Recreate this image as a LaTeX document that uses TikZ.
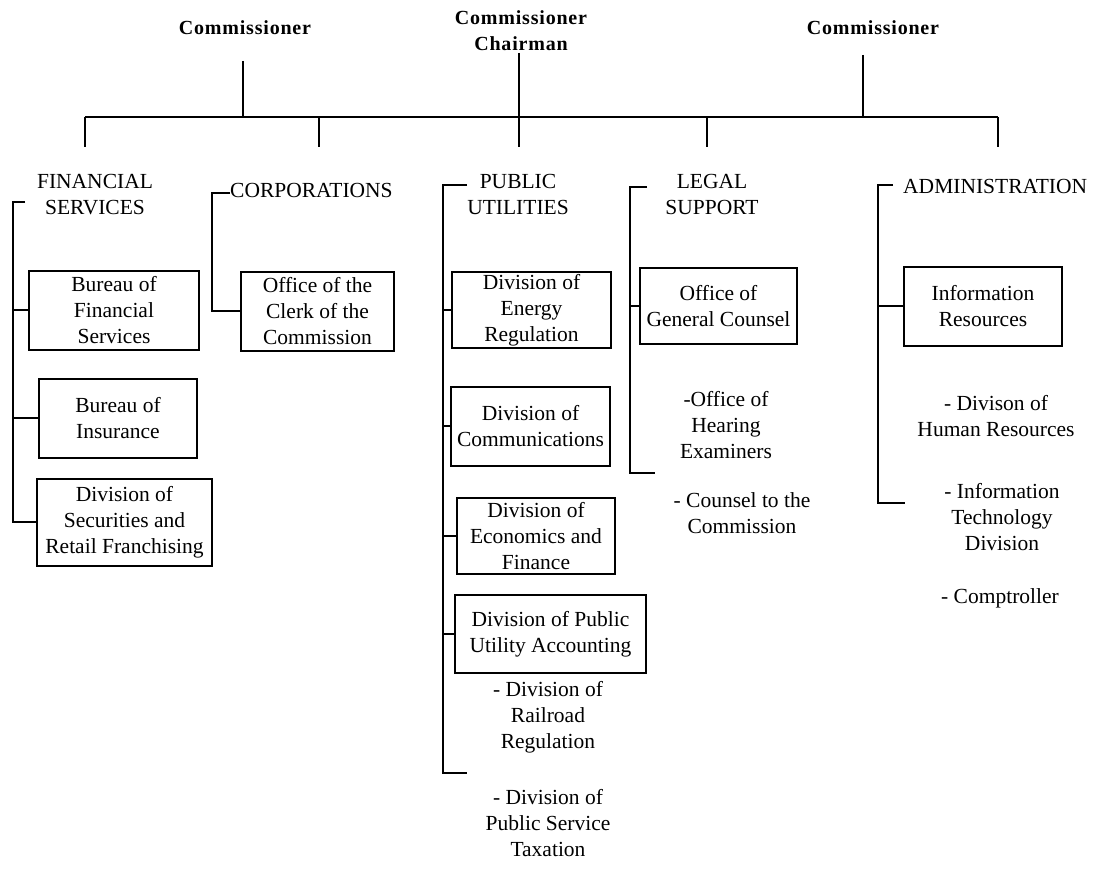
\documentclass[tikz,border=0pt]{standalone}
\usepackage{fontspec}
\setmainfont{Liberation Serif}
\begin{document}
\begin{tikzpicture}[x=1pt,y=-1pt,
  line/.style={line width=2pt},
  unit/.style={draw, line width=2pt, inner sep=0pt, align=center,
    font=\fontsize{21.5}{26}\selectfont},
  label/.style={inner sep=0pt, align=center, font=\fontsize{21.5}{26}\selectfont},
  head/.style={inner sep=0pt, align=center,
    font=\fontsize{20}{26}\selectfont\bfseries\addfontfeature{LetterSpace=4}}]
\useasboundingbox (0,0) rectangle (1097,875);

% ---- commissioners ----
\node[head] (c1) at (245,28) {Commissioner};
\node[head] (c2) at (521,31) {Commissioner\\Chairman};
\node[head] (c3) at (873,28) {Commissioner};

\coordinate (c1foot) at (243,61);
\coordinate (c2foot) at (519,53);
\coordinate (c3foot) at (863,55);
\coordinate (busL) at (85,117);
\coordinate (busR) at (998,117);

\draw[line] (busL) -- (busR);
\draw[line] (c1foot) -- (c1foot |- busL);
\draw[line] (c2foot) -- (c2foot |- busL);
\draw[line] (c3foot) -- (c3foot |- busL);

% drops to the departments
\coordinate (dFS) at (85,147);
\coordinate (dCO) at (319,147);
\coordinate (dPU) at (519,147);
\coordinate (dLS) at (707,147);
\coordinate (dAD) at (998,147);
\foreach \d in {dFS,dCO,dPU,dLS,dAD}
  \draw[line] (\d |- busL) -- (\d);

% ---- financial services ----
\node[label] (fs) at (95,195) {FINANCIAL\\SERVICES};
\node[unit, minimum width=170pt, minimum height=79pt] (bfs) at (114,310)
  {Bureau of\\Financial\\Services};
\node[unit, minimum width=158pt, minimum height=79pt] (boi) at (118,418)
  {Bureau of\\Insurance};
\node[unit, minimum width=175pt, minimum height=87pt] (dsrf) at (124.5,522)
  {Division of\\Securities and\\Retail Franchising};
\coordinate (fsTop) at (13,202);
\coordinate (fsStub) at (25,202);
\draw[line] (fsStub) -- (fsTop) -- (fsTop |- dsrf.west) -- (dsrf.west);
\draw[line] (fsTop |- bfs.west) -- (bfs.west);
\draw[line] (fsTop |- boi.west) -- (boi.west);

% ---- corporations ----
\node[label, anchor=west] (co) at (230,190) {CORPORATIONS};
\node[unit, minimum width=153pt, minimum height=79pt] (clerk) at (317.5,311)
  {Office of the\\Clerk of the\\Commission};
\coordinate (coTop) at (212,193);
\draw[line] (coTop -| co.west) -- (coTop) -- (coTop |- clerk.west) -- (clerk.west);

% ---- public utilities ----
\node[label] (pu) at (518,194) {PUBLIC\\UTILITIES};
\node[unit, minimum width=159pt, minimum height=76pt] (energy) at (531.5,310)
  {Division of\\Energy\\Regulation};
\node[unit, minimum width=159pt, minimum height=79pt] (comm) at (530.5,426)
  {Division of\\Communications};
\node[unit, minimum width=158pt, minimum height=76pt] (econ) at (536,536)
  {Division of\\Economics and\\Finance};
\node[unit, minimum width=191pt, minimum height=78pt] (pua) at (550.5,634)
  {Division of Public\\Utility Accounting};
\node[label] (rail) at (548,717) {- Division of\\Railroad\\Regulation};
\node[label] (tax) at (548,823) {- Division of\\Public Service\\Taxation};
\coordinate (puTop) at (443,185);
\coordinate (puStub) at (467,185);
\coordinate (puBot) at (443,773);
\coordinate (puEnd) at (467,773);
\draw[line] (puStub) -- (puTop) -- (puBot) -- (puEnd);
\foreach \b in {energy,comm,econ,pua}
  \draw[line] (puTop |- \b.west) -- (\b.west);

% ---- legal support ----
\node[label] (ls) at (712,194) {LEGAL\\SUPPORT};
\node[unit, minimum width=157pt, minimum height=76pt] (ogc) at (718.5,306)
  {Office of\\General Counsel};
\node[label] (ohe) at (726,425) {-Office of\\Hearing\\Examiners};
\node[label] (ctc) at (742,513) {- Counsel to the\\Commission};
\coordinate (lsTop) at (630,187);
\coordinate (lsStub) at (647,187);
\coordinate (lsBot) at (630,473);
\coordinate (lsEnd) at (655,473);
\draw[line] (lsStub) -- (lsTop) -- (lsBot) -- (lsEnd);
\draw[line] (lsTop |- ogc.west) -- (ogc.west);

% ---- administration ----
\node[label, anchor=west] (ad) at (903,186) {ADMINISTRATION};
\node[unit, minimum width=158pt, minimum height=79pt] (ir) at (983,306)
  {Information\\Resources};
\node[label] (hr) at (996,416) {- Divison of\\Human Resources};
\node[label] (itd) at (1002,517) {- Information\\Technology\\Division};
\node[label] (comp) at (1000,598) {- Comptroller};
\coordinate (adTop) at (878,185);
\coordinate (adStub) at (893,185);
\coordinate (adBot) at (878,503);
\coordinate (adEnd) at (905,503);
\draw[line] (adStub) -- (adTop) -- (adBot) -- (adEnd);
\draw[line] (adTop |- ir.west) -- (ir.west);
\end{tikzpicture}
\end{document}
